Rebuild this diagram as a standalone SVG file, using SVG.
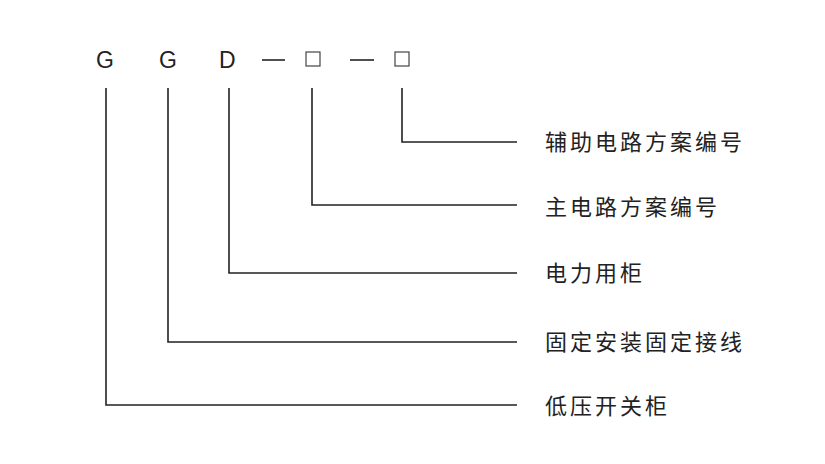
<svg xmlns="http://www.w3.org/2000/svg" width="825" height="464" viewBox="0 0 825 464">
<style>
.c{font-family:"Liberation Sans",Arial,sans-serif;font-size:23px;fill:#222}
.t{font-family:"Noto Sans CJK SC",sans-serif;font-size:22px;fill:#222;letter-spacing:3px;dominant-baseline:central}
.l{fill:none;stroke:#222;stroke-width:1.6}
.b{fill:none;stroke:#444;stroke-width:1.2}
</style>
<rect width="825" height="464" fill="#fff"/>
<g id="code">
<text class="c" x="96" y="68">G</text>
<text class="c" x="159" y="68">G</text>
<text class="c" x="219" y="68">D</text>
<line class="l" x1="262" y1="60" x2="285" y2="60"/>
<rect class="b" x="306" y="52" width="14" height="14"/>
<line class="l" x1="350" y1="60" x2="374" y2="60"/>
<rect class="b" x="395" y="52" width="14" height="14"/>
</g>
<g id="connectors">
<polyline class="l" points="402,88 402,142 517,142"/>
<polyline class="l" points="312,88 312,205 517,205"/>
<polyline class="l" points="229,88 229,273 517,273"/>
<polyline class="l" points="168,88 168,342 517,342"/>
<polyline class="l" points="106,88 106,405 517,405"/>
</g>
<g id="n1"><text class="t" x="545" y="140">辅助电路方案编号</text></g>
<g id="n2"><text class="t" x="545" y="205">主电路方案编号</text></g>
<g id="n3"><text class="t" x="545" y="271">电力用柜</text></g>
<g id="n4"><text class="t" x="545" y="340">固定安装固定接线</text></g>
<g id="n5"><text class="t" x="545" y="404">低压开关柜</text></g>
</svg>
